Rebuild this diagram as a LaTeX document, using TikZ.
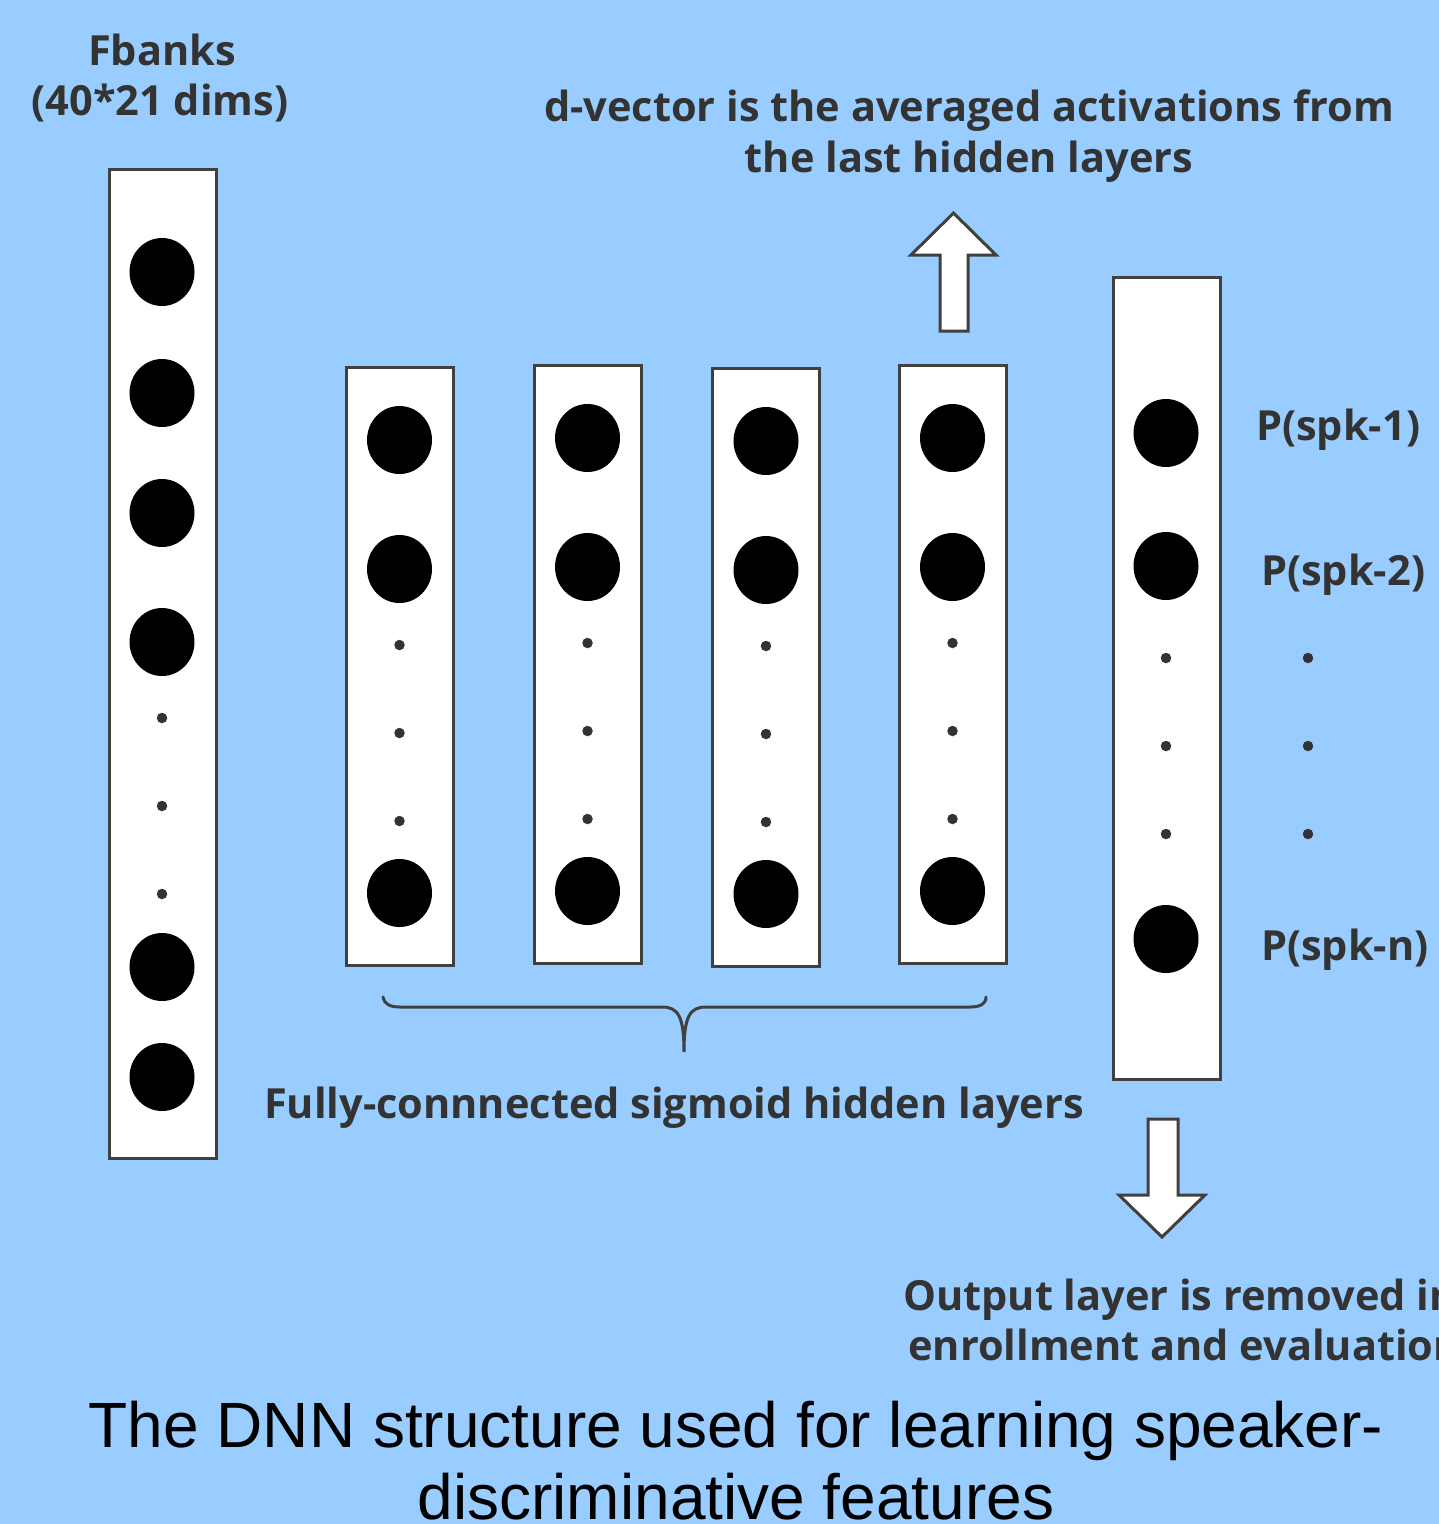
\documentclass[tikz,border=0pt]{standalone}
\usepackage{fontspec}
\usetikzlibrary{shapes.geometric}
\setmainfont{Liberation Sans}
\newfontfamily\lblfont{Open Sans}
\definecolor{bgblue}{RGB}{153,204,255}
\definecolor{boxgray}{RGB}{64,64,64}
\definecolor{txtgray}{RGB}{51,51,51}
\tikzset{
  layer/.style={draw=boxgray, fill=white, line width=3pt, inner sep=0pt, minimum width=107pt},
  unit/.style={ellipse, fill=black, minimum width=65pt, minimum height=68pt, inner sep=0pt},
  gapdot/.style={circle, fill=txtgray, minimum size=10.5pt, inner sep=0pt},
  lbl/.style={text=txtgray, inner sep=0pt, font=\lblfont\bfseries\fontsize{41.5}{50}\selectfont},
  blockarrow/.style={draw=boxgray, fill=white, line width=3pt, line join=miter},
  caption/.style={text=black, inner sep=0pt, font=\fontsize{64}{75}\selectfont}
}
\begin{document}
\begin{tikzpicture}[x=1pt,y=-1pt]
  \useasboundingbox (0,0) rectangle (1439,1524);
  \clip (0,0) rectangle (1439,1524);
  \fill[bgblue] (0,0) rectangle (1439,1524);

  % input layer (filter banks)
  \node[layer, minimum height=989pt] (inp) at (162.5,663.5) {};
  \foreach \y [count=\i] in {272,393,513,642,967,1077}
    \node[unit] (inp-\i) at (162,\y) {};
  \foreach \y [count=\i] in {718,806,894}
    \node[gapdot] (inpd-\i) at (162,\y) {};

  % four hidden layers
  \foreach \x/\c [count=\k] in {399.5/666,587.5/664,766/667,952.5/664} {
    \node[layer, minimum height=598pt] (h\k) at (\x,\c) {};
    \node[unit] (h\k-a) at (\x,\c-226) {};
    \node[unit] (h\k-b) at (\x,\c-97) {};
    \node[gapdot] (h\k-d1) at (\x,\c-21) {};
    \node[gapdot] (h\k-d2) at (\x,\c+67) {};
    \node[gapdot] (h\k-d3) at (\x,\c+155) {};
    \node[unit] (h\k-z) at (\x,\c+227) {};
  }

  % output layer
  \node[layer, minimum height=802pt] (out) at (1166.5,678) {};
  \node[unit] (out-1) at (1166,433) {};
  \node[unit] (out-2) at (1166,566) {};
  \foreach \y [count=\i] in {658,746,834}
    \node[gapdot] (outd-\i) at (1166,\y) {};
  \node[unit] (out-n) at (1166,939) {};

  % output labels
  \node[lbl, anchor=base west] (p1) at (1256,440) {P(spk-1)};
  \node[lbl, anchor=base west] (p2) at (1261,585) {P(spk-2)};
  \node[lbl, anchor=base west] (pn) at (1261,960) {P(spk-n)};
  \foreach \y [count=\i] in {658,746,834}
    \node[gapdot] (pd-\i) at (1308,\y) {};

  % input label
  \node[lbl, anchor=base] (fb1) at (162,65) {Fbanks};
  \node[lbl, anchor=base] (fb2) at (160,115) {(40*21 dims)};

  % d-vector arrow and label
  \draw[blockarrow] (940,331) -- (940,255) -- (911,255) -- (953.5,213) -- (996,255)
    -- (968,255) -- (968,331) -- cycle;
  \node[lbl, anchor=base] (dv1) at (969,121) {d-vector is the averaged activations from};
  \node[lbl, anchor=base] (dv2) at (969,172) {the last hidden layers};

  % brace under the hidden layers
  \draw[boxgray, line width=3pt, line cap=round]
    (383,997) .. controls (384,1004) and (390,1007) .. (400,1007) -- (662,1007)
    .. controls (678,1007) and (684,1016) .. (684,1052)
    .. controls (684,1016) and (690,1007) .. (706,1007) -- (970,1007)
    .. controls (980,1007) and (986,1004) .. (986,997);
  \node[lbl, anchor=base] (fc) at (674,1118) {Fully-connnected sigmoid hidden layers};

  % output arrow and label
  \draw[blockarrow] (1148,1119) -- (1178,1119) -- (1178,1195) -- (1205,1195) -- (1162,1237)
    -- (1119,1195) -- (1148,1195) -- cycle;
  \node[lbl, anchor=base west] (ol1) at (903,1310) {Output layer is removed in};
  \node[lbl, anchor=base west] (ol2) at (908,1360) {enrollment and evaluation};

  % caption
  \node[caption, anchor=base] (cap1) at (736,1447) {The DNN structure used for learning speaker-};
  \node[caption, anchor=base] (cap2) at (736,1519) {discriminative features};
\end{tikzpicture}
\end{document}
